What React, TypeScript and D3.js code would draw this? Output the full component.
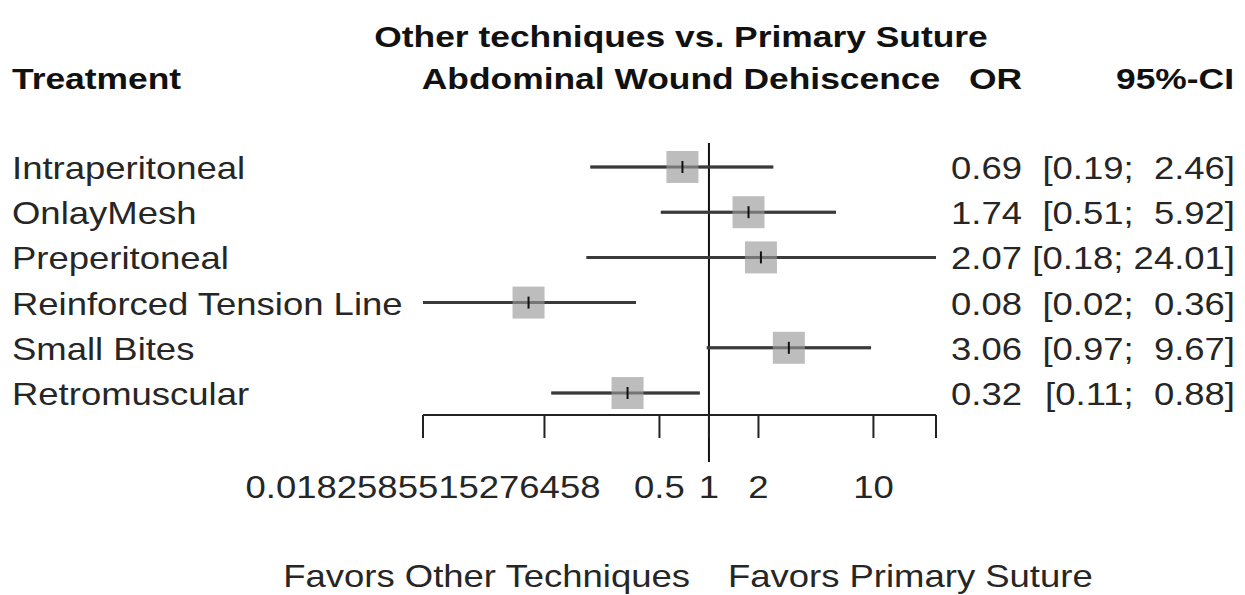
import React from "react";
import * as d3 from "d3";

const treatments = [
  "Intraperitoneal",
  "OnlayMesh",
  "Preperitoneal",
  "Reinforced Tension Line",
  "Small Bites",
  "Retromuscular",
];
const oddsRatio = [0.69, 1.74, 2.07, 0.08, 3.06, 0.32];
const ciLower = [0.19, 0.51, 0.18, 0.0182585515276458, 0.97, 0.11];
const ciUpper = [2.46, 5.92, 24.01, 0.36, 9.67, 0.88];
const tickValues = [0.0182585515276458, 0.1, 0.5, 1, 2, 10, 24.01];
const tickLabels = ["0.0182585515276458", "", "0.5", "1", "2", "10", ""];

const W = 1245;
const H = 595;
const FONT = "'Liberation Sans', Arial, Helvetica, sans-serif";

function fmt(v: number) {
  return v.toFixed(2);
}
function ciText(lo: number, hi: number) {
  const l = fmt(lo);
  const h = fmt(hi);
  const pad = h.length < 5 ? " ".repeat(1 + 5 - h.length) : " ";
  return `[${l};${pad}${h}]`;
}

type TProps = {
  x: number;
  y: number;
  anchor?: "start" | "middle" | "end";
  bold?: boolean;
  children: React.ReactNode;
};
function T({ x, y, anchor = "start", bold = false, children }: TProps) {
  const sx = bold ? 1.18 : 1.14;
  return (
    <text
      transform={`translate(${x},${y}) scale(${sx},1)`}
      textAnchor={anchor}
      fontFamily={FONT}
      fontWeight={bold ? "bold" : "normal"}
      fontSize={bold ? 30 : 32}
      fill={bold ? "#111" : "#262626"}
      style={{ whiteSpace: "pre" }}
    >
      {children}
    </text>
  );
}

export default function App() {
  const x = d3
    .scaleLog()
    .domain([tickValues[0], tickValues[tickValues.length - 1]])
    .range([423, 936]);
  const y = d3
    .scalePoint<number>()
    .domain(d3.range(treatments.length))
    .range([167, 393]);
  const axisY = 415;
  const box = 32;

  return (
    <svg
      width={W}
      height={H}
      style={{ position: "absolute", left: 0, top: 0, background: "#fff" }}
    >
      <T x={681} y={47} anchor="middle" bold>
        Other techniques vs. Primary Suture
      </T>
      <T x={681} y={89} anchor="middle" bold>
        Abdominal Wound Dehiscence
      </T>
      <T x={12} y={89} bold>
        Treatment
      </T>
      <T x={1022} y={89} anchor="end" bold>
        OR
      </T>
      <T x={1234} y={89} anchor="end" bold>
        95%-CI
      </T>

      <line
        x1={x(1)}
        x2={x(1)}
        y1={143}
        y2={462}
        stroke="#111"
        strokeWidth={2}
      />

      {treatments.map((t, i) => {
        const cy = y(i) as number;
        return (
          <g key={t}>
            <T x={12} y={cy + 12}>
              {t}
            </T>
            <line
              x1={x(ciLower[i])}
              x2={x(ciUpper[i])}
              y1={cy}
              y2={cy}
              stroke="#3a3a3a"
              strokeWidth={3}
            />
            <rect
              x={x(oddsRatio[i]) - box / 2}
              y={cy - box / 2}
              width={box}
              height={box}
              fill="#bdbdbd"
            />
            <line
              x1={x(ciLower[i])}
              x2={x(ciUpper[i])}
              y1={cy}
              y2={cy}
              stroke="#3a3a3a"
              strokeOpacity={0.55}
              strokeWidth={3}
            />
            <line
              x1={x(oddsRatio[i])}
              x2={x(oddsRatio[i])}
              y1={cy - 6}
              y2={cy + 6}
              stroke="#111"
              strokeWidth={2}
            />
            <T x={1022} y={cy + 12} anchor="end">
              {fmt(oddsRatio[i])}
            </T>
            <T x={1235} y={cy + 12} anchor="end">
              {ciText(ciLower[i], ciUpper[i])}
            </T>
          </g>
        );
      })}

      <line
        x1={x(tickValues[0])}
        x2={x(tickValues[tickValues.length - 1])}
        y1={axisY}
        y2={axisY}
        stroke="#222"
        strokeWidth={2}
      />
      {tickValues.map((v, i) => (
        <g key={i}>
          <line
            x1={x(v)}
            x2={x(v)}
            y1={axisY}
            y2={axisY + 23}
            stroke="#222"
            strokeWidth={2}
          />
          {tickLabels[i] && (
            <T x={x(v)} y={498} anchor="middle">
              {tickLabels[i]}
            </T>
          )}
        </g>
      ))}

      <T x={x(1) - 19} y={587} anchor="end">
        Favors Other Techniques
      </T>
      <T x={x(1) + 19} y={587}>
        Favors Primary Suture
      </T>
    </svg>
  );
}
